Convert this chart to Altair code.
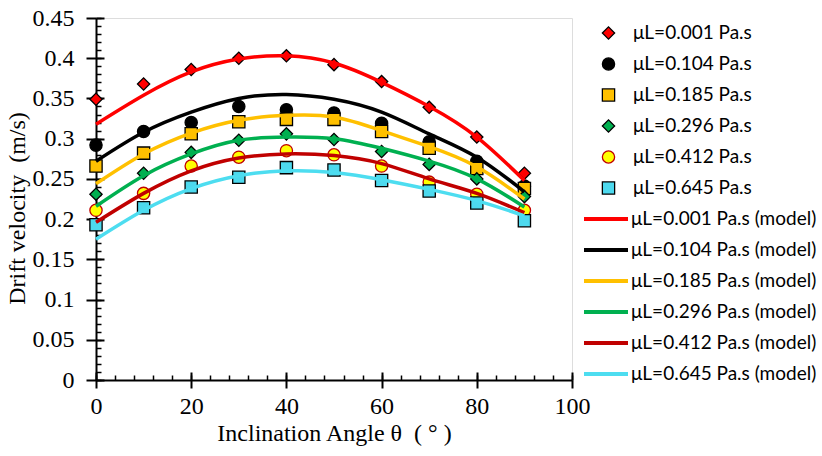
import altair as alt
import pandas as pd

angles = [0, 10, 20, 30, 40, 50, 60, 70, 80, 90]

series_labels = ["μL=0.001 Pa.s", "μL=0.104 Pa.s", "μL=0.185 Pa.s",
                 "μL=0.296 Pa.s", "μL=0.412 Pa.s", "μL=0.645 Pa.s"]
model_labels = [s + " (model)" for s in series_labels]

exp_001 = [0.349, 0.368, 0.386, 0.400, 0.403, 0.392, 0.371, 0.339, 0.302, 0.257]
exp_104 = [0.292, 0.309, 0.320, 0.340, 0.336, 0.332, 0.319, 0.296, 0.272, 0.241]
exp_185 = [0.266, 0.282, 0.306, 0.321, 0.324, 0.324, 0.309, 0.288, 0.263, 0.238]
exp_296 = [0.231, 0.257, 0.283, 0.298, 0.306, 0.299, 0.284, 0.268, 0.250, 0.228]
exp_412 = [0.211, 0.232, 0.266, 0.277, 0.285, 0.280, 0.266, 0.246, 0.231, 0.211]
exp_645 = [0.193, 0.214, 0.240, 0.252, 0.264, 0.261, 0.248, 0.235, 0.220, 0.198]

mod_001 = [0.318, 0.354, 0.383, 0.399, 0.403, 0.394, 0.370, 0.340, 0.302, 0.248]
mod_104 = [0.272, 0.308, 0.333, 0.350, 0.355, 0.349, 0.333, 0.306, 0.277, 0.234]
mod_185 = [0.244, 0.281, 0.307, 0.323, 0.329, 0.327, 0.310, 0.290, 0.265, 0.225]
mod_296 = [0.216, 0.254, 0.281, 0.298, 0.302, 0.300, 0.288, 0.272, 0.250, 0.215]
mod_412 = [0.196, 0.232, 0.260, 0.276, 0.281, 0.279, 0.269, 0.250, 0.232, 0.208]
mod_645 = [0.175, 0.211, 0.238, 0.254, 0.260, 0.258, 0.249, 0.237, 0.223, 0.204]

exp_values = [exp_001, exp_104, exp_185, exp_296, exp_412, exp_645]
mod_values = [mod_001, mod_104, mod_185, mod_296, mod_412, mod_645]

shapes = ["diamond", "circle", "square", "diamond", "circle", "square"]
fills = ["#FF0000", "#000000", "#FFC000", "#00B050", "#FFFF00", "#4DD9EE"]
strokes = ["#000000", "#000000", "#000000", "#000000", "#C00000", "#000000"]
line_colors = ["#FF0000", "#000000", "#FFC000", "#00B050", "#C00000", "#4DDDF0"]

x_major = [0, 20, 40, 60, 80, 100]
x_minor = list(range(0, 101, 4))
y_major = [round(i * 0.05, 2) for i in range(10)]
y_minor = [round(i * 0.01, 2) for i in range(46)]

rows_e, rows_m = [], []
for lab, vals in zip(series_labels, exp_values):
    for a, v in zip(angles, vals):
        rows_e.append({"angle": a, "v": v, "series": lab})
for lab, vals in zip(model_labels, mod_values):
    for a, v in zip(angles, vals):
        rows_m.append({"angle": a, "v": v, "model": lab})
df_e = pd.DataFrame(rows_e)
df_m = pd.DataFrame(rows_m)

W, H = 476, 362
serif = "Liberation Serif"
sans = "Lato"
NB = "\u00a0"

xscale = alt.Scale(domain=[0, 100], nice=False, zero=False)
yscale = alt.Scale(domain=[0, 0.45], nice=False, zero=False)

x_main = alt.Axis(values=x_major, tickSize=8, tickWidth=2, tickColor="black",
                  domainColor="black", domainWidth=2, grid=False,
                  labelFont=serif, labelFontSize=24, labelColor="black",
                  labelPadding=6, labelFlush=False, labelOverlap=False,
                  title=f"Inclination Angle θ{NB}{NB}({NB}°{NB})", titleFont=serif,
                  titleFontSize=24, titleFontWeight="normal", titleColor="black",
                  titlePadding=3)
y_main = alt.Axis(values=y_major, format="~g", tickSize=10, tickWidth=2,
                  tickColor="black", domainColor="black", domainWidth=2,
                  grid=False, labelFont=serif, labelFontSize=24,
                  labelColor="black", labelPadding=12, labelFlush=False,
                  labelOverlap=False, title=f"Drift velocity{NB}{NB}(m/s)",
                  titleFont=serif, titleFontSize=24, titleFontWeight="normal",
                  titleColor="black", titlePadding=3, titleY=190)

x_minor_ax = alt.Axis(orient="top", offset=-H, values=x_minor, tickSize=5,
                      tickWidth=1.5, tickColor="black", labels=False,
                      domain=False, grid=False, title=None)
y_minor_ax = alt.Axis(orient="right", offset=-W, values=y_minor, tickSize=5,
                      tickWidth=1.5, tickColor="black", labels=False,
                      domain=False, grid=False, title=None)
x_major_in = alt.Axis(orient="top", offset=-H, values=x_major, tickSize=8,
                      tickWidth=2, tickColor="black", labels=False,
                      domain=False, grid=False, title=None)
y_major_in = alt.Axis(orient="right", offset=-W, values=y_major, tickSize=8,
                      tickWidth=2, tickColor="black", labels=False,
                      domain=False, grid=False, title=None)

leg_pts = alt.Legend(orient="none", legendX=503, legendY=5, title=None,
                     labelFont=sans, labelFontSize=19, labelColor="black",
                     labelLimit=400,
                     symbolSize=150, symbolStrokeWidth=1.3, labelOffset=15,
                     rowPadding=11, clipHeight=20, padding=0)
leg_lines = alt.Legend(orient="none", legendX=486, legendY=191, title=None,
                       labelFont=sans, labelFontSize=19, labelColor="black",
                       labelLimit=400,
                       symbolType="stroke", symbolSize=1936,
                       symbolStrokeWidth=4, labelOffset=1, rowPadding=11,
                       clipHeight=20, padding=0)

points = alt.Chart(df_e).mark_point(filled=True, size=150, strokeWidth=1.3,
                                    opacity=1).encode(
    x=alt.X("angle:Q", scale=xscale, axis=x_main),
    y=alt.Y("v:Q", scale=yscale, axis=y_main),
    shape=alt.Shape("series:N", scale=alt.Scale(domain=series_labels, range=shapes),
                    legend=leg_pts, sort=series_labels),
    fill=alt.Fill("series:N", scale=alt.Scale(domain=series_labels, range=fills),
                  legend=leg_pts, sort=series_labels),
    stroke=alt.Stroke("series:N", scale=alt.Scale(domain=series_labels, range=strokes),
                      legend=leg_pts, sort=series_labels),
)

lines = alt.Chart(df_m).mark_line(strokeWidth=3.5, interpolate="natural").encode(
    x=alt.X("angle:Q", scale=xscale, axis=x_minor_ax),
    y=alt.Y("v:Q", scale=yscale, axis=y_minor_ax),
    color=alt.Color("model:N", scale=alt.Scale(domain=model_labels, range=line_colors),
                    legend=leg_lines, sort=model_labels),
    detail="model:N",
)

ticks_in = alt.Chart(df_e).mark_point(opacity=0, size=1).encode(
    x=alt.X("angle:Q", scale=xscale, axis=x_major_in),
    y=alt.Y("v:Q", scale=yscale, axis=y_major_in),
)

chart = alt.layer(points, lines, ticks_in).resolve_axis(
    x="independent", y="independent"
).properties(
    width=W, height=H,
    autosize=alt.AutoSizeParams(type="none"),
    padding={"left": 96, "top": 18, "right": 250, "bottom": 76},
).configure_view(stroke="black", strokeWidth=1.5).configure(background="white")

chart.save("out.html", embed_options={"renderer": "svg", "actions": False})
